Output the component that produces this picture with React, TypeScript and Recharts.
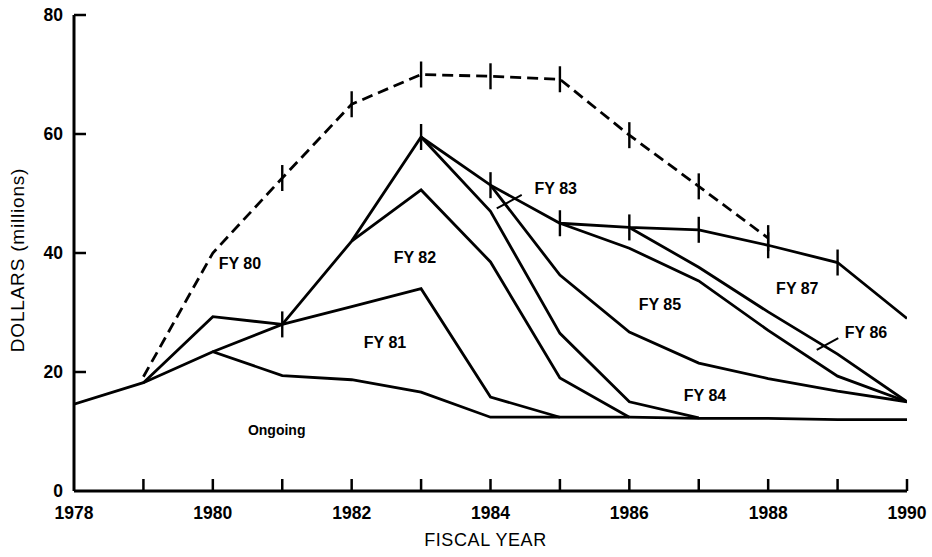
import React from 'react';
import { ComposedChart, Line, XAxis, YAxis, ReferenceDot, ReferenceLine, Label } from 'recharts';

const years = [1978, 1979, 1980, 1981, 1982, 1983, 1984, 1985, 1986, 1987, 1988, 1989, 1990];
const yTicks = [0, 20, 40, 60, 80];

const ongoing = [14.6, 18.2, 23.4, 19.4, 18.7, 16.6, 12.4, 12.4, 12.4, 12.2, 12.2, 12.0, 12.0];
const fy80Line = [null, 18.2, 29.3, 28.0, null, null, null, null, null, null, null, null, null];
const fy81Line = [null, null, 23.4, 28.0, 31.0, 34.0, 15.8, 12.4, null, null, null, null, null];
const fy82Line = [null, null, null, null, 42.0, 50.6, 38.5, 19.0, 12.4, null, null, null, null];
const topLine = [null, null, null, 28.0, 42.0, 59.5, 51.4, 45.0, 44.3, 43.9, 41.3, 38.4, 29.0];
const lineA = [null, null, null, null, null, 59.5, 47.0, 26.5, 15.0, 12.3, null, null, null];
const lineB = [null, null, null, null, null, null, 51.4, 36.3, 26.7, 21.5, 18.9, 16.8, 15.0];
const lineC = [null, null, null, null, null, null, null, 45.0, 40.8, 35.3, 27.0, 19.3, 15.0];
const lineD = [null, null, null, null, null, null, null, null, 44.3, 37.6, 30.1, 23.0, 15.0];
const totalLine = [null, 19.2, 40.0, 52.6, 65.0, 70.0, 69.7, 69.2, 59.8, 51.2, 42.5, null, null];

const topTickYears = [1981, 1983, 1984, 1985, 1986, 1987, 1988, 1989];
const totalTickYears = [1981, 1982, 1983, 1984, 1985, 1986, 1987, 1988];

const regionLabels = [
  { text: 'FY 80', x: 1980.39, y: 38.3 },
  { text: 'FY 82', x: 1982.91, y: 39.2 },
  { text: 'FY 81', x: 1982.48, y: 25.0 },
  { text: 'Ongoing', x: 1980.92, y: 10.3 },
  { text: 'FY 83', x: 1984.94, y: 50.9 },
  { text: 'FY 85', x: 1986.44, y: 31.3 },
  { text: 'FY 84', x: 1987.09, y: 16.0 },
  { text: 'FY 87', x: 1988.42, y: 33.95 },
  { text: 'FY 86', x: 1989.41, y: 26.6 },
];

const leaders = [
  [{ x: 1984.45, y: 49.75 }, { x: 1984.09, y: 47.5 }],
  [{ x: 1989.01, y: 25.7 }, { x: 1988.7, y: 23.7 }],
];

const data = years.map((year, i) => ({
  year,
  ongoing: ongoing[i],
  fy80: fy80Line[i],
  fy81: fy81Line[i],
  fy82: fy82Line[i],
  top: topLine[i],
  a: lineA[i],
  b: lineB[i],
  c: lineC[i],
  d: lineD[i],
  total: totalLine[i],
}));

const FONT = '"Liberation Sans", Arial, Helvetica, sans-serif';

const makeTickDot = (tickYears: number[]) => (props: any) => {
  const { cx, cy, payload, index } = props;
  if (cx == null || cy == null || payload == null || !tickYears.includes(payload.year) || props.value == null) {
    return <g key={`dot-${index}`} />;
  }
  return (
    <line
      key={`dot-${index}`}
      x1={cx}
      x2={cx}
      y1={cy - 13}
      y2={cy + 13}
      stroke="#000"
      strokeWidth={2.4}
    />
  );
};

const XTick = (props: any) => {
  const { x, y, payload } = props;
  const v = payload.value;
  return (
    <g>
      {v !== 1978 && <line x1={x} x2={x} y1={y} y2={y - 12} stroke="#000" strokeWidth={2.5} />}
      {v % 2 === 0 && (
        <text x={x} y={y + 28} textAnchor="middle" fontSize={17.5} fontFamily={FONT} fontWeight="bold" fill="#000">
          {v}
        </text>
      )}
    </g>
  );
};

const YTick = (props: any) => {
  const { x, y, payload } = props;
  const v = payload.value;
  return (
    <g>
      {v !== 0 && <line x1={x} x2={x + 12} y1={y} y2={y} stroke="#000" strokeWidth={2.5} />}
      <text x={x - 11} y={y + 6} textAnchor="end" fontSize={17.5} fontFamily={FONT} fontWeight="bold" fill="#000">
        {v}
      </text>
    </g>
  );
};

const lineProps = {
  type: 'linear' as const,
  stroke: '#000',
  strokeWidth: 2.8,
  dot: false as const,
  activeDot: false as const,
  isAnimationActive: false,
  connectNulls: false,
};

export default function App() {
  return (
    <div style={{ position: 'absolute', left: 0, top: 0, width: 932, height: 557, background: '#fff' }}>
      <ComposedChart width={932} height={557} data={data} margin={{ top: 15, right: 25, bottom: 26, left: 14 }}>
        <XAxis
          type="number"
          dataKey="year"
          domain={[1978, 1990]}
          ticks={years}
          interval={0}
          tickLine={false}
          tickSize={0}
          tickMargin={0}
          tick={<XTick />}
          height={40}
          axisLine={{ stroke: '#000', strokeWidth: 3 }}
          allowDataOverflow
        >
          <Label
            content={(p: any) => {
              const vb = p.viewBox || { x: 74, y: 491, width: 833, height: 40 };
              return (
                <text
                  x={vb.x + vb.width / 2 - 5}
                  y={vb.y + vb.height + 15}
                  textAnchor="middle"
                  fontSize={18}
                  letterSpacing={0.6}
                  fontFamily={FONT}
                  fill="#000"
                >
                  FISCAL YEAR
                </text>
              );
            }}
          />
        </XAxis>
        <YAxis
          type="number"
          domain={[0, 80]}
          ticks={yTicks}
          interval={0}
          tickLine={false}
          tickSize={0}
          tickMargin={0}
          tick={<YTick />}
          width={60}
          axisLine={{ stroke: '#000', strokeWidth: 3 }}
          allowDataOverflow
        >
          <Label
            content={(p: any) => {
              const vb = p.viewBox || { x: 14, y: 15, width: 60, height: 476 };
              const cx = vb.x + 10;
              const cy = vb.y + vb.height / 2 + 7;
              return (
                <text
                  x={cx}
                  y={cy}
                  transform={`rotate(-90, ${cx}, ${cy})`}
                  textAnchor="middle"
                  fontSize={19}
                  letterSpacing={0.8}
                  fontFamily={FONT}
                  fill="#000"
                >
                  DOLLARS (millions)
                </text>
              );
            }}
          />
        </YAxis>

        <Line {...lineProps} dataKey="ongoing" />
        <Line {...lineProps} dataKey="fy80" />
        <Line {...lineProps} dataKey="fy81" />
        <Line {...lineProps} dataKey="fy82" />
        <Line {...lineProps} dataKey="a" />
        <Line {...lineProps} dataKey="b" />
        <Line {...lineProps} dataKey="c" />
        <Line {...lineProps} dataKey="d" />
        <Line {...lineProps} dataKey="top" dot={makeTickDot(topTickYears)} />
        <Line {...lineProps} dataKey="total" strokeDasharray="11 6" dot={makeTickDot(totalTickYears)} />

        {leaders.map((seg, i) => (
          <ReferenceLine key={`leader-${i}`} segment={seg} stroke="#000" strokeWidth={2} ifOverflow="visible" />
        ))}

        {regionLabels.map((l) => (
          <ReferenceDot
            key={l.text}
            x={l.x}
            y={l.y}
            r={0}
            fill="none"
            stroke="none"
            ifOverflow="visible"
            label={(p: any) => {
              const vb = p.viewBox || { x: 0, y: 0, width: 0, height: 0 };
              const cx = vb.x + (vb.width || 0) / 2;
              const cy = vb.y + (vb.height || 0) / 2;
              return (
                <text
                  x={cx}
                  y={cy + 5.5}
                  textAnchor="middle"
                  fontSize={l.text === 'Ongoing' ? 14 : 16}
                  fontFamily={FONT}
                  fontWeight="bold"
                  fill="#000"
                >
                  {l.text}
                </text>
              );
            }}
          />
        ))}
      </ComposedChart>
    </div>
  );
}
